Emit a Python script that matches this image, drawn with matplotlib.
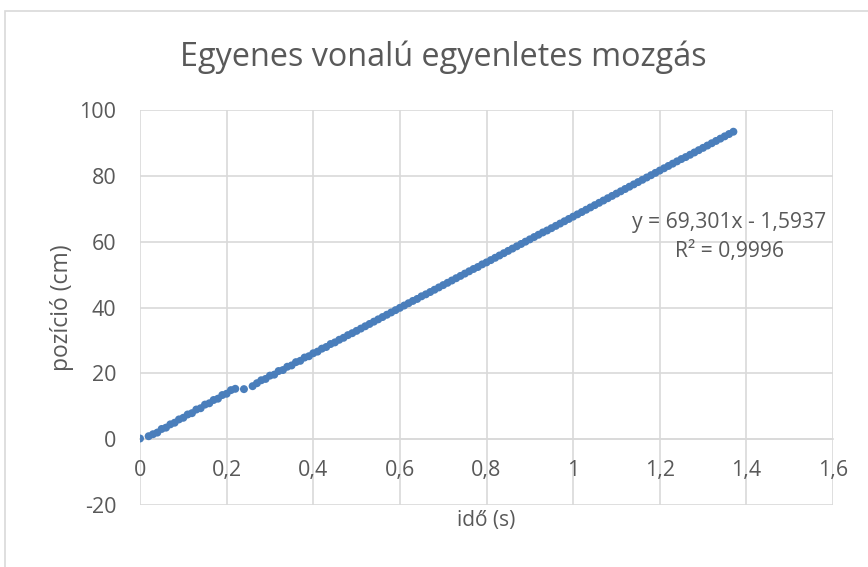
#!/usr/bin/env python3
"""Excel-style scatter: Egyenes vonalú egyenletes mozgás."""

import matplotlib.pyplot as plt
from matplotlib.patches import Rectangle

# measured time (s) and position (cm)
t_early = [0.00, 0.02, 0.03, 0.04, 0.05, 0.06, 0.07, 0.08, 0.09, 0.10, 0.11,
           0.12, 0.13, 0.14, 0.15, 0.16, 0.17, 0.18, 0.19, 0.20, 0.21, 0.22]
pos_early = [0.2, 0.9, 1.5, 2.0, 3.1, 3.5, 4.5, 5.0, 6.0, 6.5, 7.5,
             7.9, 9.0, 9.4, 10.5, 10.9, 11.9, 12.3, 13.4, 13.8, 14.9, 15.3]

t_gap = [0.24]
pos_gap = [15.2]

t_late = [0.26, 0.27, 0.28, 0.29, 0.30, 0.31, 0.32, 0.33, 0.34, 0.35,
          0.36, 0.37, 0.38, 0.39, 0.40, 0.41, 0.42, 0.43, 0.44, 0.45,
          0.46, 0.47, 0.48, 0.49, 0.50, 0.51, 0.52, 0.53, 0.54, 0.55,
          0.56, 0.57, 0.58, 0.59, 0.60, 0.61, 0.62, 0.63, 0.64, 0.65,
          0.66, 0.67, 0.68, 0.69, 0.70, 0.71, 0.72, 0.73, 0.74, 0.75,
          0.76, 0.77, 0.78, 0.79, 0.80, 0.81, 0.82, 0.83, 0.84, 0.85,
          0.86, 0.87, 0.88, 0.89, 0.90, 0.91, 0.92, 0.93, 0.94, 0.95,
          0.96, 0.97, 0.98, 0.99, 1.00, 1.01, 1.02, 1.03, 1.04, 1.05,
          1.06, 1.07, 1.08, 1.09, 1.10, 1.11, 1.12, 1.13, 1.14, 1.15,
          1.16, 1.17, 1.18, 1.19, 1.20, 1.21, 1.22, 1.23, 1.24, 1.25,
          1.26, 1.27, 1.28, 1.29, 1.30, 1.31, 1.32, 1.33, 1.34, 1.35,
          1.36, 1.37]
pos_late = [16.1, 17.0, 17.9, 18.3, 19.3, 19.6, 20.7, 21.0, 22.0, 22.4,
            23.4, 23.8, 24.8, 25.2, 26.1, 26.6, 27.5, 28.0, 28.9, 29.4,
            30.2, 30.8, 31.6, 32.2, 32.9, 33.6, 34.3, 35.0, 35.7, 36.4,
            37.1, 37.8, 38.5, 39.2, 39.9, 40.6, 41.3, 42.0, 42.6, 43.4,
            44.0, 44.7, 45.4, 46.1, 46.8, 47.5, 48.2, 48.9, 49.6, 50.3,
            51.0, 51.7, 52.3, 53.1, 53.7, 54.4, 55.1, 55.8, 56.5, 57.2,
            57.9, 58.6, 59.3, 60.0, 60.7, 61.4, 62.1, 62.8, 63.4, 64.1,
            64.8, 65.5, 66.2, 66.9, 67.6, 68.3, 69.0, 69.7, 70.4, 71.1,
            71.8, 72.5, 73.2, 73.9, 74.6, 75.3, 76.0, 76.7, 77.4, 78.1,
            78.8, 79.5, 80.2, 80.9, 81.6, 82.3, 83.0, 83.7, 84.4, 85.1,
            85.7, 86.4, 87.1, 87.8, 88.5, 89.2, 89.9, 90.6, 91.3, 92.0,
            92.7, 93.4]

x_ticks = [0, 0.2, 0.4, 0.6, 0.8, 1.0, 1.2, 1.4, 1.6]
x_labels = ["0", "0,2", "0,4", "0,6", "0,8", "1", "1,2", "1,4", "1,6"]
y_ticks = [-20, 0, 20, 40, 60, 80, 100]
y_labels = ["-20", "0", "20", "40", "60", "80", "100"]

BLUE = "#4A7EBB"
GRID = "#d9d9d9"
TEXT = "#595959"

plt.rcParams["font.family"] = ["Open Sans", "DejaVu Sans"]

fig = plt.figure(figsize=(8.68, 5.67), dpi=100)
fig.patches.append(Rectangle((5 / 868, -0.01), 1.0, 1 - 11 / 567 + 0.01,
                             transform=fig.transFigure, fill=False,
                             edgecolor=GRID, linewidth=1.2))

ax = fig.add_axes([140 / 868, 1 - 505 / 567, (833 - 140) / 868, (505 - 110) / 567])

for tx, py in [(t_early, pos_early), (t_gap, pos_gap), (t_late, pos_late)]:
    ax.scatter(tx, py, s=33, color=BLUE, edgecolors="none", zorder=3)

ax.set_xlim(0, 1.6)
ax.set_ylim(-20, 100)
ax.set_xticks(x_ticks)
ax.set_xticklabels(x_labels)
ax.set_yticks(y_ticks)
ax.set_yticklabels(y_labels)
ax.grid(True, color=GRID, linewidth=1.2)
ax.set_axisbelow(True)

for side in ["top", "right", "left"]:
    ax.spines[side].set_visible(False)
ax.spines["bottom"].set_position(("data", 0))
ax.spines["bottom"].set_color(GRID)
ax.spines["bottom"].set_linewidth(1.2)
ax.tick_params(length=0, labelsize=15.5, colors=TEXT)
ax.tick_params(axis="x", pad=15)
ax.tick_params(axis="y", pad=17)

ax.set_xlabel("idő (s)", fontsize=15, color=TEXT, va="center")
ax.xaxis.set_label_coords(0.5, -0.04)
ax.set_ylabel("pozíció (cm)", fontsize=16.5, color=TEXT, va="center")
ax.yaxis.set_label_coords(-0.113, 0.5)

fig.text(443 / 868, 1 - 57 / 567, "Egyenes vonalú egyenletes mozgás",
         ha="center", va="center", fontsize=23.3, color=TEXT)

ax.text(1.360, 61.4, "y = 69,301x - 1,5937\nR² = 0,9996", ha="center", va="center",
        fontsize=15.2, color=TEXT, linespacing=1.45)

fig.savefig("out.png", dpi=100)
